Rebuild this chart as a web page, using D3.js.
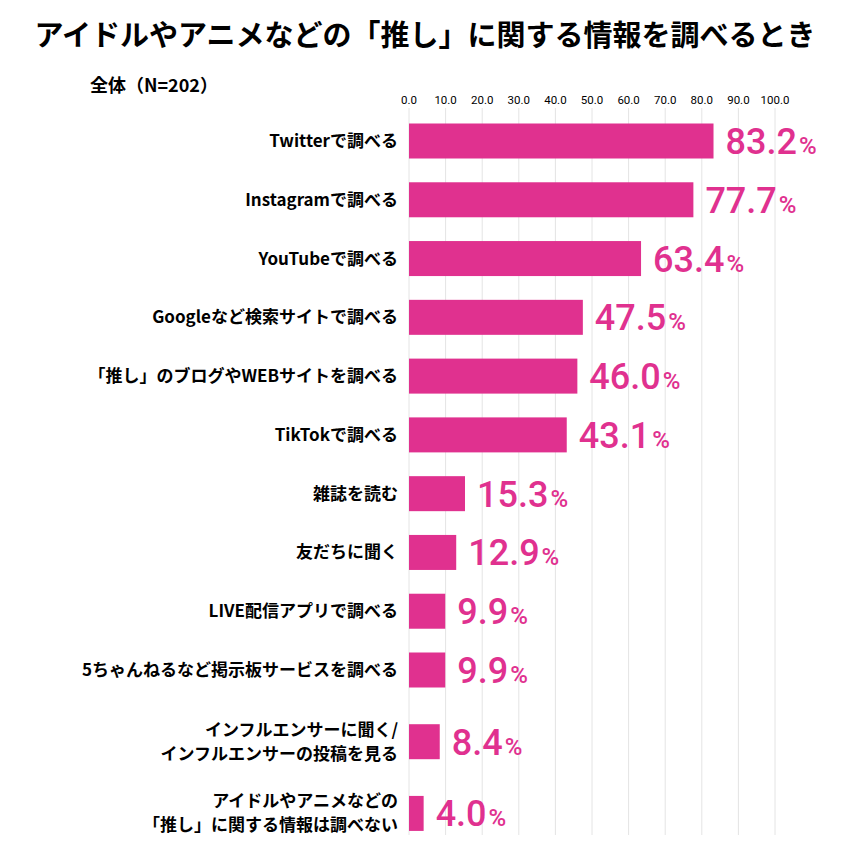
<!DOCTYPE html>
<html><head><meta charset="utf-8">
<script src="https://cdn.jsdelivr.net/npm/d3@7"></script>
<style>body{margin:0;background:#fff}text{font-family:"Noto Sans CJK JP","Noto Sans",sans-serif}</style>
</head><body><div id="chart"></div>
<script>
'use strict';
var labels = [
  ['Twitterで調べる'], ['Instagramで調べる'], ['YouTubeで調べる'], ['Googleなど検索サイトで調べる'],
  ['「推し」のブログやWEBサイトを調べる'], ['TikTokで調べる'], ['雑誌を読む'], ['友だちに聞く'],
  ['LIVE配信アプリで調べる'], ['5ちゃんねるなど掲示板サービスを調べる'],
  ['インフルエンサーに聞く/', 'インフルエンサーの投稿を見る'],
  ['アイドルやアニメなどの', '「推し」に関する情報は調べない']
];
var values = [83.2, 77.7, 63.4, 47.5, 46.0, 43.1, 15.3, 12.9, 9.9, 9.9, 8.4, 4.0];
var ticks = [0, 10, 20, 30, 40, 50, 60, 70, 80, 90, 100];
var color = '#e0318f';

var W = 850, H = 867;
var svg = d3.select('#chart').append('svg').attr('width', W).attr('height', H);

// slot positions: two-line rows take a little more room
var slots = [];
labels.reduce(function(acc, l, i) { var s = acc + (i === 0 ? 0 : 1) + (l.length > 1 ? 0.22 : 0); slots.push(s); return s; }, 0);
var y = d3.scaleLinear().domain([0, 9]).range([141, 670]);
var x = d3.scaleLinear().domain([0, 100]).range([409, 775]);
var bh = 35;

svg.append('text').attr('x', W / 2).attr('y', 46).attr('text-anchor', 'middle')
  .style('font-size', '29px').style('font-weight', 700).text('アイドルやアニメなどの「推し」に関する情報を調べるとき');
svg.append('text').attr('x', 90).attr('y', 92).style('font-size', '18px').style('font-weight', 700).text('全体（N=202）');

svg.selectAll('.grid').data(ticks).enter().append('line')
  .attr('x1', x).attr('x2', x).attr('y1', 108).attr('y2', 835)
  .attr('stroke', '#e4e4e4').attr('stroke-width', 1);
svg.selectAll('.tick').data(ticks).enter().append('text')
  .attr('x', x).attr('y', 104).attr('text-anchor', 'middle')
  .style('font-size', '11.5px').style('font-family', 'Roboto, sans-serif').text(function(d) { return d.toFixed(1); });

svg.selectAll('.bar').data(values).enter().append('rect')
  .attr('x', x(0)).attr('y', function(d, i) { return y(slots[i]) - bh / 2; })
  .attr('width', function(d) { return x(d) - x(0); }).attr('height', bh).attr('fill', color);

var val = svg.selectAll('.val').data(values).enter().append('text')
  .attr('x', function(d) { return x(d) + 12; }).attr('y', function(d, i) { return y(slots[i]) + 13; })
  .attr('fill', color).style('font-family', 'Roboto, "Liberation Sans", sans-serif').style('font-weight', 500);
val.append('tspan').style('font-size', '36px').text(function(d) { return d.toFixed(1); });
val.append('tspan').style('font-size', '24px').attr('dx', 2).text('%');

labels.forEach(function(l, i) {
  var t = svg.append('text').attr('x', 398).attr('text-anchor', 'end')
    .style('font-size', '17px').style('font-weight', 700);
  var cy = y(slots[i]);
  l.forEach(function(s, j) {
    t.append('tspan').attr('x', 398).attr('y', cy + 6 + (j - (l.length - 1) / 2) * 24).text(s);
  });
});
</script></body></html>
